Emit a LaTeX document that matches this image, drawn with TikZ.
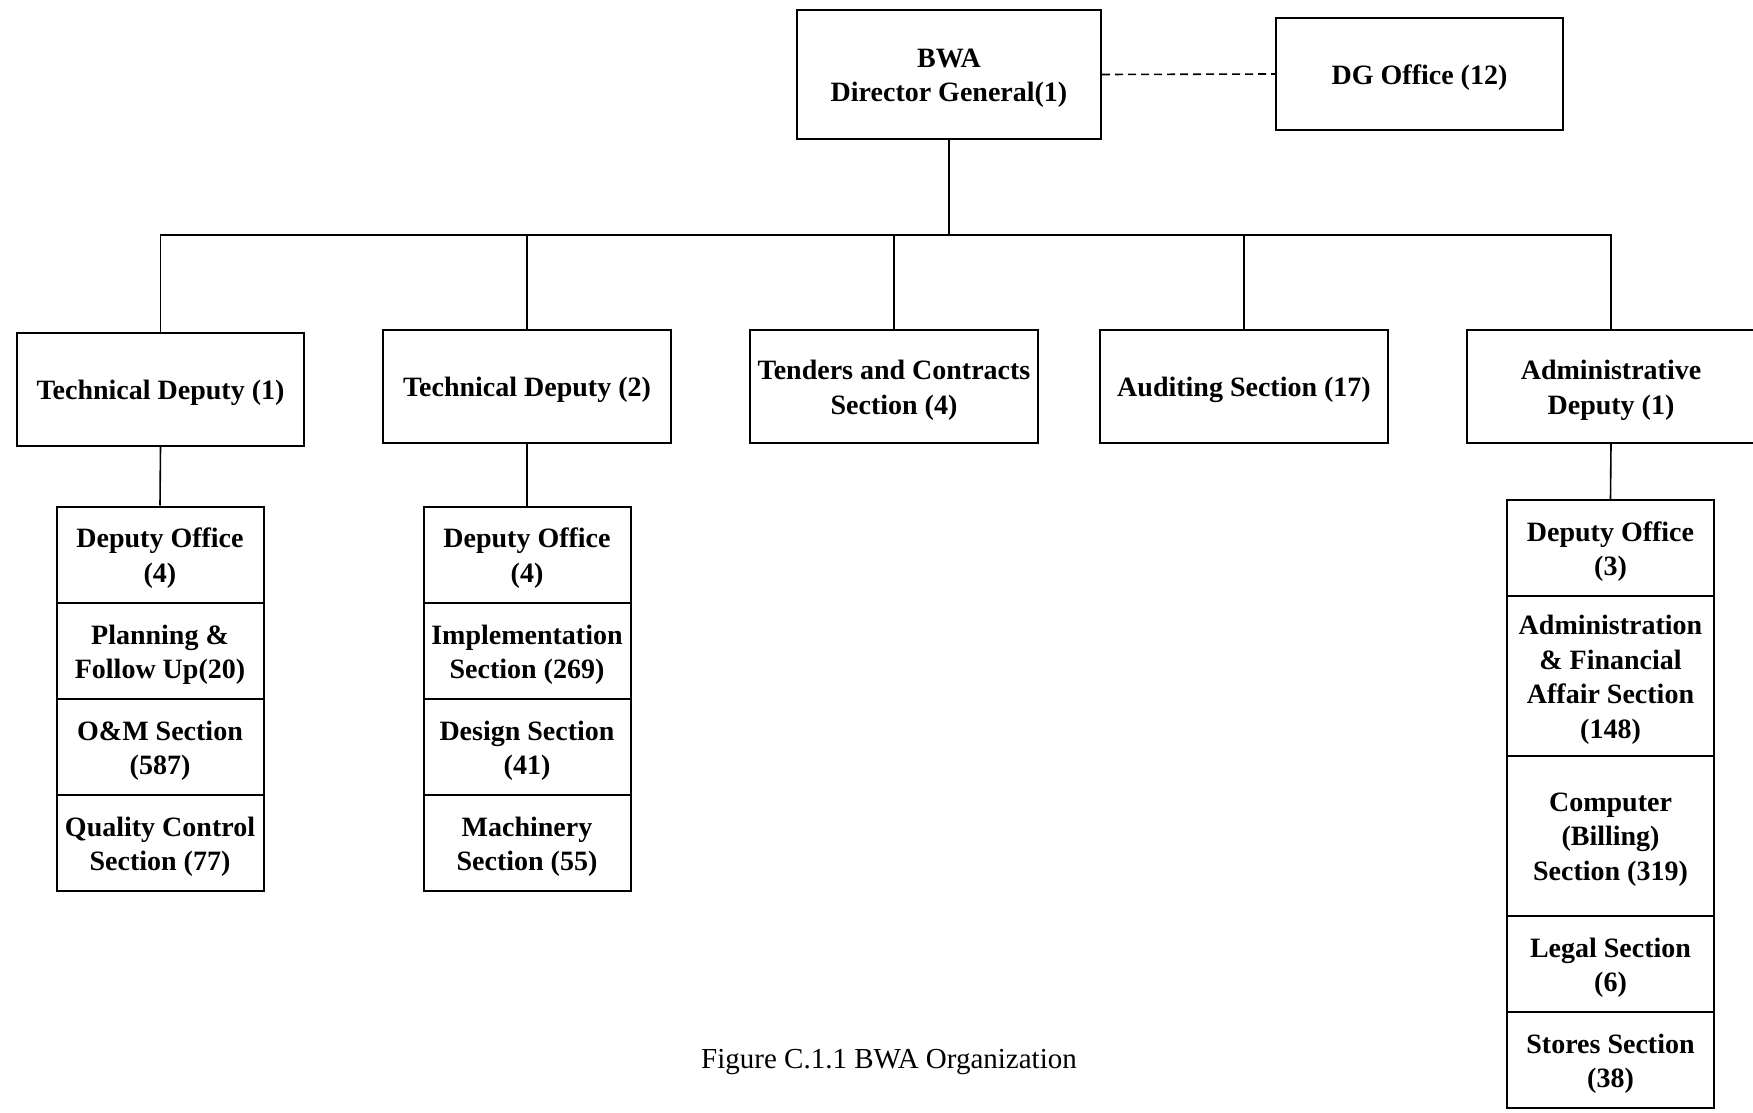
\documentclass[tikz,border=0pt]{standalone}
\usepackage{fontspec}
\setmainfont{Liberation Serif}
\begin{document}
\begin{tikzpicture}[x=0.5pt,y=-0.5pt,
  txt/.style={align=center, inner sep=0pt, yshift=-1.8pt,
    font=\bfseries\fontsize{14}{17.3}\selectfont},
  box/.style={draw, line width=1pt, inner sep=0pt, label={[txt]center:#1}},
  top/.style={box={#1}, minimum width=144pt, minimum height=56.5pt},
  cell/.style={box={#1}, minimum width=103.5pt, minimum height=48pt},
  tallcell/.style={box={#1}, minimum width=103.5pt, minimum height=80pt},
  conn/.style={line width=0.8pt}]
\useasboundingbox (0,0) rectangle (1753,1113);
\clip (0,0) rectangle (1753,1113);
% top level
\node[box={BWA\\Director General(1)}, minimum width=152pt, minimum height=64.5pt] (dg) at (949,74.5) {};
\node[box={DG Office (12)}, minimum width=143.5pt, minimum height=56pt] (dgo) at (1419.5,74) {};
\draw[conn, dash pattern=on 4pt off 2.5pt] (dg.east) -- (dgo.west);
% second level
\node[top={Technical Deputy (1)}, minimum width=143.5pt] (td1) at (160.5,389.5) {};
\node[top={Technical Deputy (2)}] (td2) at (527,386.5) {};
\node[top={Tenders and Contracts\\Section (4)}] (ten) at (894,386.5) {};
\node[top={Auditing Section (17)}] (aud) at (1244,386.5) {};
\node[top={Administrative\\Deputy (1)}] (adm) at (1611,386.5) {};
\coordinate (bus) at (949,235);
\draw[conn] (dg.south) -- (bus);
\draw[conn] (td1.north) |- (adm.north |- bus) -- (adm.north);
\draw[conn] (td2.north) -- (td2.north |- bus);
\draw[conn] (ten.north) -- (ten.north |- bus);
\draw[conn] (aud.north) -- (aud.north |- bus);
% stack 1
\node[cell={Deputy Office\\(4)}] (a1) at (160,554.5) {};
\node[cell={Planning \&\\Follow Up(20)}] (a2) at (160,651) {};
\node[cell={O\&M Section\\(587)}] (a3) at (160,747) {};
\node[cell={Quality Control\\Section (77)}] (a4) at (160,843) {};
\draw[conn] (td1.south) -- (a1.north);
% stack 2
\node[cell={Deputy Office\\(4)}] (b1) at (527,554.5) {};
\node[cell={Implementation\\Section (269)}] (b2) at (527,651) {};
\node[cell={Design Section\\(41)}] (b3) at (527,747) {};
\node[cell={Machinery\\Section (55)}] (b4) at (527,843) {};
\draw[conn] (td2.south) -- (b1.north);
% stack 3
\node[cell={Deputy Office\\(3)}] (c1) at (1610.5,548) {};
\node[tallcell={Administration\\\& Financial\\Affair Section\\(148)}] (c2) at (1610.5,676) {};
\node[tallcell={Computer\\(Billing)\\Section (319)}] (c3) at (1610.5,836) {};
\node[cell={Legal Section\\(6)}] (c4) at (1610.5,964) {};
\node[cell={Stores Section\\(38)}] (c5) at (1610.5,1060) {};
\draw[conn] (adm.south) -- (c1.north);
% caption
\node[font=\fontsize{14.5}{17}\selectfont, inner sep=0pt] (cap) at (889,1062) {Figure C.1.1 BWA Organization};
\end{tikzpicture}
\end{document}
